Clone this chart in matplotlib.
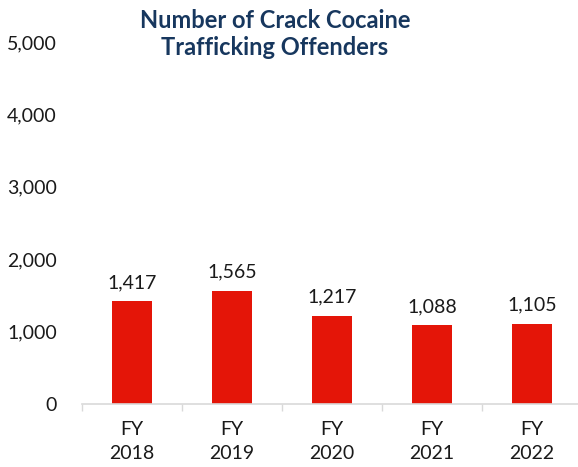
import matplotlib
matplotlib.use("Agg")
import matplotlib.pyplot as plt
import numpy as np

categories = ["FY\n2018", "FY\n2019", "FY\n2020", "FY\n2021", "FY\n2022"]
values = [1417, 1565, 1217, 1088, 1105]
yticks = [0, 1000, 2000, 3000, 4000, 5000]

plt.rcParams['font.family'] = ['Lato', 'DejaVu Sans']

fig = plt.figure(figsize=(5.78, 4.67), dpi=100)
ax = fig.add_axes([82/578, 63/467, 500/578, 362/467])

x = np.arange(len(values))
ax.bar(x, values, width=0.4, color="#E41508", zorder=2)
for xi, v in zip(x, values):
    ax.text(xi, v + 140, f"{v:,}", ha="center", va="bottom", fontsize=14, color="#1a1a1a")

ax.set_xlim(-0.5, len(values) - 0.5)
ax.set_ylim(0, 5000)
ax.set_yticks(yticks)
ax.set_yticklabels([f"{t:,}" for t in yticks], fontsize=14, color="#1a1a1a")
ax.tick_params(axis="y", length=0, pad=18)

ax.set_xticks(x)
ax.set_xticklabels(categories, fontsize=14, color="#1a1a1a", linespacing=1.55)
ax.tick_params(axis="x", which="major", length=0, pad=12)
ax.set_xticks(np.arange(-0.5, len(values), 1.0), minor=True)
ax.tick_params(axis="x", which="minor", length=5, color="#D9D9D9", width=1)

for s in ["top", "right", "left"]:
    ax.spines[s].set_visible(False)
ax.spines["bottom"].set_color("#D9D9D9")
ax.spines["bottom"].set_linewidth(1.2)

fig.text(275/578, 1 - 34/467, "Number of Crack Cocaine\nTrafficking Offenders", ha="center", va="center",
         fontsize=17, fontweight="bold", color="#17375E", linespacing=1.25)

fig.savefig("out.png", dpi=100)
